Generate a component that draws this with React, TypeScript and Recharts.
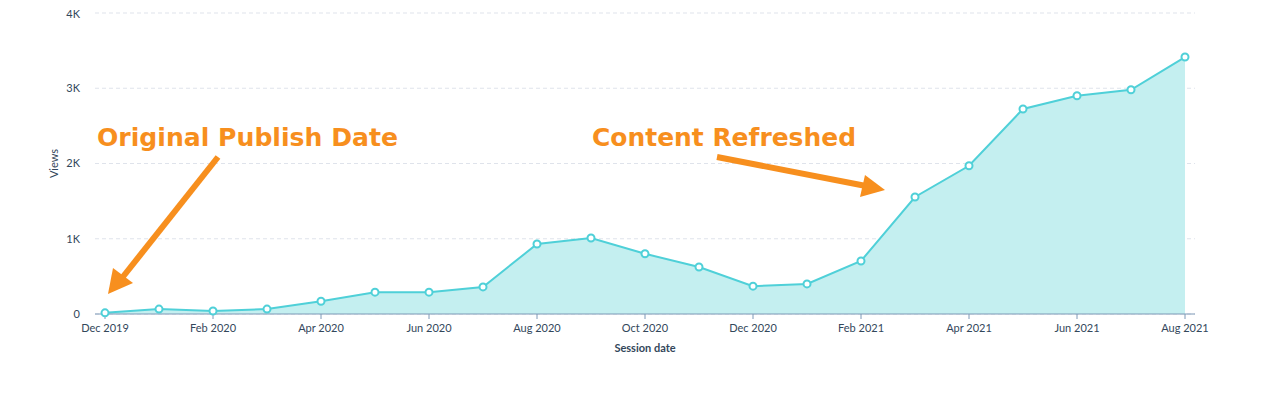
import { Area, AreaChart, CartesianGrid, Customized, XAxis, YAxis } from 'recharts';

// months shown on the x axis
const months = [
  'Dec 2019', 'Jan 2020', 'Feb 2020', 'Mar 2020', 'Apr 2020', 'May 2020', 'Jun 2020',
  'Jul 2020', 'Aug 2020', 'Sep 2020', 'Oct 2020', 'Nov 2020', 'Dec 2020', 'Jan 2021',
  'Feb 2021', 'Mar 2021', 'Apr 2021', 'May 2021', 'Jun 2021', 'Jul 2021', 'Aug 2021',
];

// page views per month
const views = [
  15, 65, 40, 65, 170, 290, 290, 360, 930, 1010, 800, 625, 370, 400, 705, 1555, 1970,
  2725, 2900, 2980, 3415,
];

const yTicks = [0, 1000, 2000, 3000, 4000];

const data = months.map((m, i) => ({ month: m, views: views[i] }));

const TEXT = '#33475b';
const ORANGE = '#f78f1e';
const TEAL = '#4fd0d8';
const FONT = 'Lato, "Open Sans", sans-serif';
const NOTE_FONT = '"DejaVu Sans", Arial, sans-serif';

const fmtK = (v: number) => (v === 0 ? '0' : `${v / 1000}K`);

// the two orange call-outs
const Notes = () => (
  <g>
    <text x={89} y={138} fill={ORANGE} fontFamily={NOTE_FONT} fontWeight="bold" fontSize={25}
      textLength={301} lengthAdjust="spacingAndGlyphs">
      Original Publish Date
    </text>
    <line x1={210} y1={149} x2={114} y2={270} stroke={ORANGE} strokeWidth={6} />
    <polygon points="100,286 105,260 125,275" fill={ORANGE} />
    <text x={584} y={138} fill={ORANGE} fontFamily={NOTE_FONT} fontWeight="bold" fontSize={25}
      textLength={264} lengthAdjust="spacingAndGlyphs">
      Content Refreshed
    </text>
    <line x1={709} y1={149} x2={858} y2={178} stroke={ORANGE} strokeWidth={6} />
    <polygon points="877,182 857,167 852,189" fill={ORANGE} />
  </g>
);

export default function App() {
  return (
    <AreaChart width={1267} height={390} data={data} margin={{ top: 5, right: 80, left: 0, bottom: 44 }}>
      <CartesianGrid vertical={false} stroke="#dfe3eb" strokeDasharray="4 3" />
      <XAxis
        dataKey="month"
        interval={1}
        padding={{ left: 10, right: 10 }}
        height={40}
        tickSize={5}
        tickMargin={5}
        stroke="#7c98b6"
        tick={{ fill: TEXT, fontSize: 11, fontFamily: FONT }}
        label={{
          value: 'Session date',
          position: 'insideBottom',
          offset: 2,
          fill: TEXT,
          fontSize: 11,
          fontWeight: 'bold',
          fontFamily: FONT,
        }}
      />
      <YAxis
        width={87}
        domain={[0, 4000]}
        ticks={yTicks}
        tickFormatter={fmtK}
        axisLine={false}
        tickLine={false}
        tickMargin={9}
        tick={{ fill: TEXT, fontSize: 11, fontFamily: FONT }}
        label={({ viewBox }: any) => {
          const cy = viewBox.y + viewBox.height / 2;
          return (
            <text x={45} y={cy} transform={`rotate(-90 45 ${cy})`} textAnchor="middle" dominantBaseline="central" fill={TEXT} fontSize={11} fontFamily={FONT}>
              Views
            </text>
          );
        }}
      />
      <Area
        type="linear"
        dataKey="views"
        stroke={TEAL}
        strokeWidth={2}
        fill="#c4eff0"
        fillOpacity={1}
        dot={{ r: 3.5, fill: '#fff', stroke: TEAL, strokeWidth: 2 }}
        activeDot={false}
        isAnimationActive={false}
      />
      <Customized component={Notes} />
    </AreaChart>
  );
}
